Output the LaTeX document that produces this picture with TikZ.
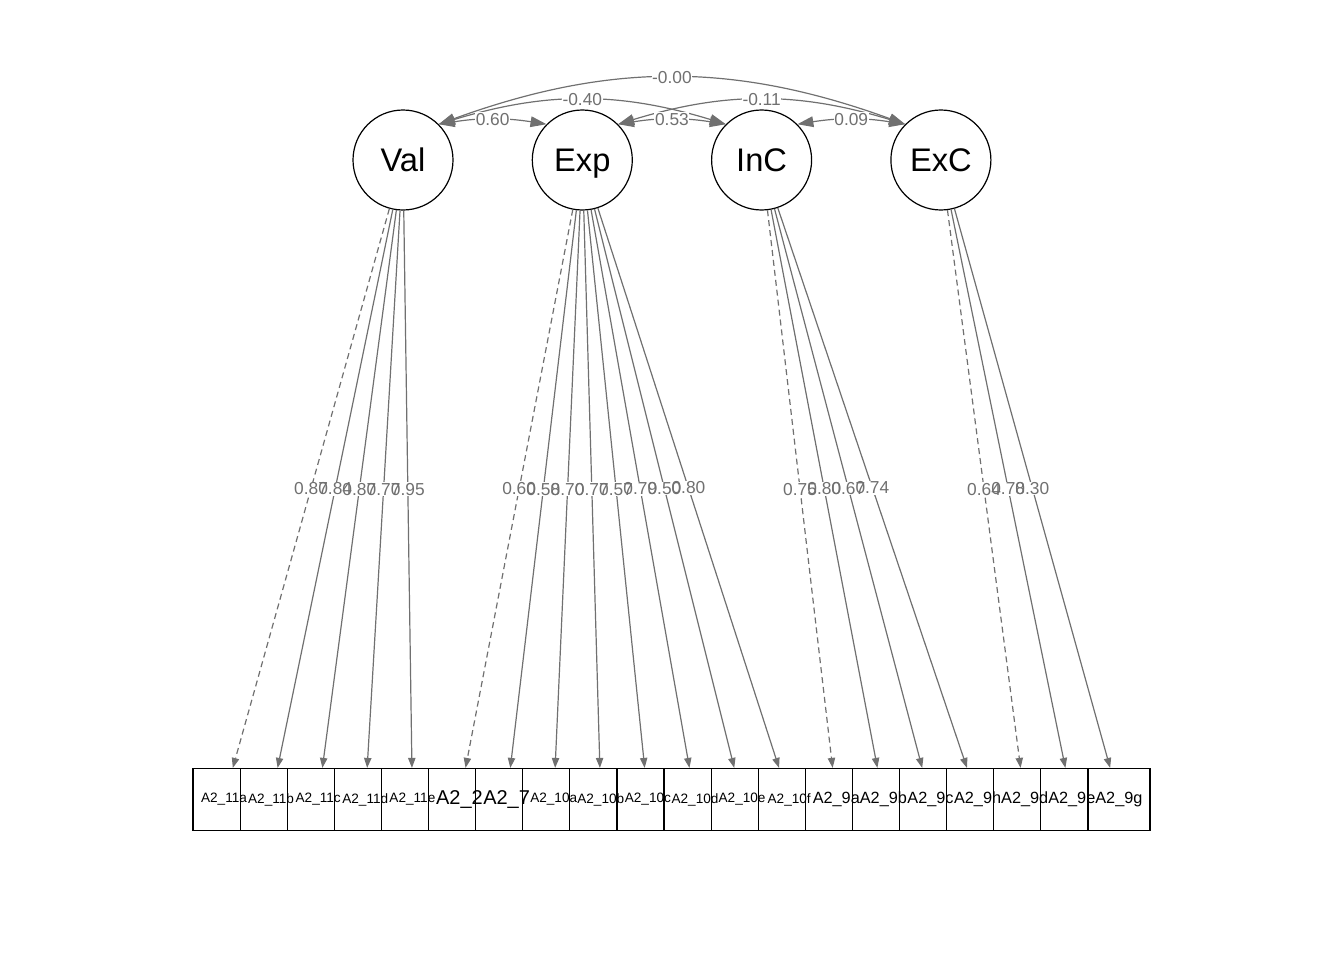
\documentclass[tikz,border=0pt]{standalone}
\usepackage{fontspec}
\setmainfont{Liberation Sans}
\usepackage{tikz}
\usetikzlibrary{arrows.meta,positioning,calc}
\definecolor{edgegray}{RGB}{112,112,112}
\tikzstyle{lat}=[draw, circle, line width=0.9pt, minimum size=75pt, inner sep=0pt,
text depth=0pt, font=\fontsize{24.5}{28}\selectfont]
\tikzstyle{obs}=[draw, rectangle, fill=white, line width=0.9pt, minimum width=46.5pt,
minimum height=46.5pt, inner sep=0pt]
\tikzstyle{load}=[draw, line width=0.9pt, color=edgegray, -{Triangle[length=7.5pt,width=5.5pt]}]
\tikzstyle{fixed}=[dash pattern=on 4.5pt off 3pt]
\tikzstyle{cov}=[draw, line width=0.9pt, color=edgegray,
{Triangle[length=12pt,width=8pt]}-{Triangle[length=12pt,width=8pt]}]
\tikzstyle{lblbg}=[fill=white, text opacity=0, inner sep=0.5pt, font=\fontsize{13}{15}\selectfont]
\tikzstyle{lbl}=[text=edgegray, inner sep=0.5pt, font=\fontsize{13}{15}\selectfont]
\tikzstyle{cl}=[fill=white, text=edgegray, inner sep=0.5pt, font=\fontsize{13}{15}\selectfont]
\newcommand{\latent}[2]{node (#1)[lat]{#2}}
\newcommand{\obsv}[1]{node (#1)[obs]{}}

\begin{document}
\begin{tikzpicture}[x=0.75pt,y=-0.75pt]
	\useasboundingbox (0,0) rectangle (1344,960);

	% Draw latent variables
	\path (403,160) \latent{Val}{Val};
	\path (Val)+(179.3,0) \latent{Exp}{Exp};
	\path (Exp)+(179.3,0) \latent{InC}{InC};
	\path (InC)+(179.3,0) \latent{ExC}{ExC};

	% Draw indicator boxes
	\path (224,799.5) \obsv{b1};
	\path (b1)+(47.1,0) \obsv{b2};
	\path (b2)+(47.1,0) \obsv{b3};
	\path (b3)+(47.1,0) \obsv{b4};
	\path (b4)+(47.1,0) \obsv{b5};
	\path (b5)+(47.1,0) \obsv{b6};
	\path (b6)+(47.1,0) \obsv{b7};
	\path (b7)+(47.1,0) \obsv{b8};
	\path (b8)+(47.1,0) \obsv{b9};
	\path (b9)+(47.1,0) \obsv{b10};
	\path (b10)+(47.1,0) \obsv{b11};
	\path (b11)+(47.1,0) \obsv{b12};
	\path (b12)+(47.1,0) \obsv{b13};
	\path (b13)+(47.1,0) \obsv{b14};
	\path (b14)+(47.1,0) \obsv{b15};
	\path (b15)+(47.1,0) \obsv{b16};
	\path (b16)+(47.1,0) \obsv{b17};
	\path (b17)+(47.1,0) \obsv{b18};
	\path (b18)+(47.1,0) \obsv{b19};
	\path (b19)+(47.1,0) \obsv{b20};

	% Indicator names, on top of all boxes
	\foreach \b/\t/\s in {b1/A2\_11a/10.2,b2/A2\_11b/10.2,b3/A2\_11c/10.2,b4/A2\_11d/10.2,
		b5/A2\_11e/10.2,b6/A2\_2/15,b7/A2\_7/15,b8/A2\_10a/10.2,b9/A2\_10b/10.2,
		b10/A2\_10c/10.2,b11/A2\_10d/10.2,b12/A2\_10e/10.2,b13/A2\_10f/10.2,
		b14/A2\_9a/12.2,b15/A2\_9b/12.2,b16/A2\_9c/12.2,b17/A2\_9h/12.2,
		b18/A2\_9d/12.2,b19/A2\_9e/12.2,b20/A2\_9g/12.2}
		\node [inner sep=0pt, font=\fontsize{\s}{\s}\selectfont] at (\b) {\t};

	% Draw loadings
	\path [load,fixed] (Val) -- coordinate (m1) (b1);
	\path [load] (Val) -- coordinate (m2) (b2);
	\path [load] (Val) -- coordinate (m3) (b3);
	\path [load] (Val) -- coordinate (m4) (b4);
	\path [load] (Val) -- coordinate (m5) (b5);
	\path [load,fixed] (Exp) -- coordinate (m6) (b6);
	\path [load] (Exp) -- coordinate (m7) (b7);
	\path [load] (Exp) -- coordinate (m8) (b8);
	\path [load] (Exp) -- coordinate (m9) (b9);
	\path [load] (Exp) -- coordinate (m10) (b10);
	\path [load] (Exp) -- coordinate (m11) (b11);
	\path [load] (Exp) -- coordinate (m12) (b12);
	\path [load] (Exp) -- coordinate (m13) (b13);
	\path [load,fixed] (InC) -- coordinate (m14) (b14);
	\path [load] (InC) -- coordinate (m15) (b15);
	\path [load] (InC) -- coordinate (m16) (b16);
	\path [load] (InC) -- coordinate (m17) (b17);
	\path [load,fixed] (ExC) -- coordinate (m18) (b18);
	\path [load] (ExC) -- coordinate (m19) (b19);
	\path [load] (ExC) -- coordinate (m20) (b20);

	% Loading labels: backgrounds first, then the numbers
	\foreach \m/\v in {m1/0.87,m2/0.84,m3/0.87,m4/0.77,m5/0.95,m6/0.60,m7/0.58,
		m8/0.70,m9/0.77,m10/0.57,m11/0.79,m12/0.50,m13/0.80,m14/0.75,m15/0.80,
		m16/0.67,m17/0.74,m18/0.64,m19/0.78,m20/0.30}
		\node [lblbg] at (\m) {\v};
	\foreach \m/\v in {m1/0.87,m2/0.84,m3/0.87,m4/0.77,m5/0.95,m6/0.60,m7/0.58,
		m8/0.70,m9/0.77,m10/0.57,m11/0.79,m12/0.50,m13/0.80,m14/0.75,m15/0.80,
		m16/0.67,m17/0.74,m18/0.64,m19/0.78,m20/0.30}
		\node [lbl] at (\m) {\v};

	% Draw covariances
	\path [cov] (Val.45) to [bend left=20] node [cl] {-0.00} (ExC.135);
	\path [cov] (Val.45) to [bend left=17] node [cl] {-0.40} (InC.135);
	\path [cov] (Exp.45) to [bend left=17] node [cl] {-0.11} (ExC.135);
	\path [cov] (Val.45) to [bend left=9] node [cl] {0.60} (Exp.135);
	\path [cov] (Exp.45) to [bend left=9] node [cl] {0.53} (InC.135);
	\path [cov] (InC.45) to [bend left=9] node [cl] {0.09} (ExC.135);
\end{tikzpicture}
\end{document}
